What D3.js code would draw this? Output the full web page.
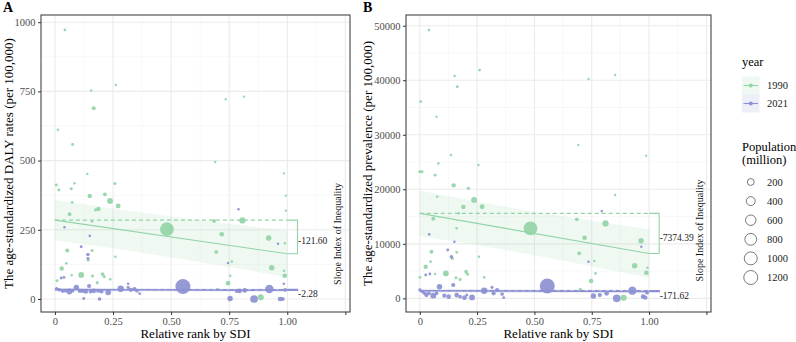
<!DOCTYPE html>
<html>
<head>
<meta charset="utf-8">
<script src="https://cdn.jsdelivr.net/npm/d3@7"></script>
<style>
  body { margin: 0; background: #fff; }
  svg { display: block; }
  svg text { font-family: "Liberation Serif", "Times New Roman", "DejaVu Serif", serif; }
</style>
</head>
<body>
<svg id="chart" width="796" height="342"></svg>
<script>
// ---- data: [relative rank by SDI, value, population (million)] ----
const years = ["1990", "2021"];

const daly1990 = [
  [0.043,972,5],[0.013,611,2],[0.156,753,2],[0.262,773,2],[0.167,689,30],[0.076,558,8],
  [0.735,722,1],[0.814,731,1],[0.690,495,1],[0.986,454,1],[0.006,412,8],[0.017,394,8],
  [0.084,418,3],[0.070,398,10],[0.074,349,3],[0.139,452,2],[0.258,417,10],[0.150,372,50],
  [0.215,378,30],[0.237,354,130],[0.187,325,50],[0.175,322,15],[0.272,336,70],[0.063,306,30],
  [0.160,280,3],[0.482,252,1150],[0.685,282,30],[0.807,284,150],[0.718,234,60],[0.920,220,100],
  [0.994,373,1],[0.994,319,1],[0.990,201,2],[0.053,175,30],[0.160,175,10],[0.143,141,15],
  [0.260,153,2],[0.694,170,25],[0.029,110,50],[0.049,129,4],[0.113,87,120],[0.162,83,10],
  [0.205,90,25],[0.212,81,12],[0.072,86,3],[0.182,59,10],[0.009,66,8],[0.933,113,100],
  [0.989,84,60],[0.986,102,3],[0.745,57,60],[0.754,84,4],[0.761,135,3],[0.700,35,10],
  [0.886,6,140],[0.238,71,3]
];
const daly2021 = [
  [0.007,37,20],[0.019,33,20],[0.033,29,25],[0.046,30,25],[0.062,27,120],[0.076,30,25],
  [0.092,42,100],[0.107,29,40],[0.119,29,30],[0.133,27,60],[0.147,47,40],[0.153,27,25],
  [0.167,29,60],[0.185,29,25],[0.200,28,50],[0.229,24,120],[0.283,37,170],[0.315,42,10],
  [0.326,33,40],[0.342,36,40],[0.353,30,25],[0.365,19,5],[0.551,45,1410],[0.754,2,100],
  [0.783,29,40],[0.795,29,60],[0.817,31,60],[0.857,0,270],[0.923,36,335],[0.969,0,60],
  [0.980,0,40],[0.991,33,25],[0.041,259,3],[0.113,189,8],[0.142,161,20],[0.150,228,3],
  [0.124,2,8],[0.192,0,20],[0.027,76,6],[0.039,78,6],[0.142,147,6],[0.790,324,2],
  [0.960,200,2],[0.745,130,2],[0.315,55,4],[0.985,55,3]
];
const prev1990 = [
  [0.040,49200,5],[0.004,36060,5],[0.073,33300,2],[0.152,40770,2],[0.164,38800,6],[0.261,41870,5],
  [0.736,40220,1],[0.852,40950,1],[0.691,28120,1],[0.987,26160,1],[0.000,23230,8],[0.010,23230,8],
  [0.081,24750,3],[0.067,22620,10],[0.136,26280,2],[0.256,24450,2],[0.148,20720,50],[0.212,20170,15],
  [0.237,18030,130],[0.190,16750,50],[0.272,16810,70],[0.076,18640,2],[0.059,14610,30],[0.170,15590,3],
  [0.161,12840,3],[0.483,12840,1150],[0.685,14490,30],[0.810,13750,150],[0.719,11120,60],[0.965,10570,100],
  [0.852,18950,2],[0.051,8560,30],[0.161,8440,4],[0.142,7330,15],[0.258,7640,2],[0.695,8250,25],
  [0.026,5810,50],[0.047,6720,4],[0.114,4580,120],[0.158,3790,10],[0.202,4890,25],[0.208,4460,12],
  [0.067,4460,3],[0.176,3480,10],[0.001,3850,8],[0.937,5990,100],[0.988,4700,60],[0.993,5620,3],
  [0.747,3180,60],[0.761,6850,3],[0.766,4580,4],[0.700,1650,10],[0.889,120,140],[0.281,3850,3]
];
const prev2021 = [
  [0.001,1530,20],[0.012,1220,20],[0.022,920,25],[0.029,610,40],[0.040,920,25],[0.059,490,120],
  [0.086,2140,100],[0.073,920,25],[0.107,490,40],[0.126,310,60],[0.146,2450,40],[0.161,610,60],
  [0.176,310,25],[0.195,120,60],[0.205,610,10],[0.228,180,120],[0.281,1410,170],[0.315,2020,10],
  [0.322,920,40],[0.337,1530,40],[0.359,800,25],[0.366,120,5],[0.556,2260,1410],[0.757,430,100],
  [0.785,610,40],[0.815,920,60],[0.859,0,270],[0.927,1410,335],[0.974,310,60],[0.984,120,40],
  [0.991,1040,25],[0.041,11740,3],[0.122,8860,8],[0.138,7640,20],[0.151,10390,3],[0.026,4280,6],
  [0.044,4460,6],[0.794,16010,2],[0.966,9470,2],[0.736,6700,2]
];

// fitted lines (intercept at rank 0, slope index of inequality)
const interceptDaly = [285, 34];
const siiDaly = [-121.60, -2.28];
const interceptPrev = [15590, 1410];
const siiPrev = [-7374.39, -171.62];

// confidence band read at these ranks
const bandRanks = [0, 0.25, 0.5, 0.75, 1];
const bandDalyLo = [[212, 183, 150, 116, 79], [28, 27.5, 27, 26.3, 25.7]];
const bandDalyHi = [[358, 327, 298, 272, 247], [40, 39.4, 38.9, 38.3, 37.7]];
const bandPrevLo = [[11390, 9750, 7900, 5860, 3820], [1060, 1017, 974, 931, 888]];
const bandPrevHi = [[19790, 17750, 15900, 14260, 12620], [1760, 1717, 1674, 1631, 1588]];

const xTicks = [0, 0.25, 0.5, 0.75, 1, 1.25];
const xMinor = [0.125, 0.375, 0.625, 0.875, 1.125];
const dalyTicks = [0, 250, 500, 750, 1000];
const dalyMinor = [125, 375, 625, 875];
const prevTicks = [0, 10000, 20000, 30000, 40000, 50000];
const prevMinor = [5000, 15000, 25000, 35000, 45000];

const popLegend = [200, 400, 600, 800, 1000, 1200];

// ---- drawing ----
const serif = '"Liberation Serif", "Times New Roman", "DejaVu Serif", serif';
const svg = d3.select("#chart").attr("font-family", serif);
const colors = ["#93D4A7", "#8C90D2"];
const rScale = d3.scaleSqrt().domain([0, 1200]).range([1, 7]);

function drawPanel(p) {
  const x = d3.scaleLinear().domain([-0.06, 1.27]).range([p.left, p.right]);
  const y = d3.scaleLinear().domain(p.yDomain).range([p.bottom, p.top]);
  const g = svg.append("g");

  // grid
  g.selectAll(".vminor").data(xMinor).join("line")
    .attr("x1", d => x(d)).attr("x2", d => x(d)).attr("y1", p.top).attr("y2", p.bottom)
    .attr("stroke", "#F3F3F3").attr("stroke-width", 0.6);
  g.selectAll(".hminor").data(p.minor).join("line")
    .attr("y1", d => y(d)).attr("y2", d => y(d)).attr("x1", p.left).attr("x2", p.right)
    .attr("stroke", "#F3F3F3").attr("stroke-width", 0.6);
  g.selectAll(".vmajor").data(xTicks).join("line")
    .attr("x1", d => x(d)).attr("x2", d => x(d)).attr("y1", p.top).attr("y2", p.bottom)
    .attr("stroke", "#EBEBEB").attr("stroke-width", 1.1);
  g.selectAll(".hmajor").data(p.ticks).join("line")
    .attr("y1", d => y(d)).attr("y2", d => y(d)).attr("x1", p.left).attr("x2", p.right)
    .attr("stroke", "#EBEBEB").attr("stroke-width", 1.1);

  // confidence bands
  const area = d3.area().x(d => x(d[0])).y0(d => y(d[1])).y1(d => y(d[2])).curve(d3.curveMonotoneX);
  years.forEach((yr, i) => {
    const band = bandRanks.map((r, k) => [r, p.lo[i][k], p.hi[i][k]]);
    g.append("path").attr("d", area(band))
      .attr("fill", colors[i]).attr("fill-opacity", 0.15);
  });

  // points
  years.forEach((yr, i) => {
    g.append("g").selectAll("circle").data(p.points[i]).join("circle")
      .attr("cx", d => x(d[0])).attr("cy", d => y(d[1]))
      .attr("r", d => rScale(d[2]))
      .attr("fill", colors[i]).attr("fill-opacity", 0.92);
  });

  // fitted lines, baseline and SII bracket
  const bx = 1.044;
  years.forEach((yr, i) => {
    const a = p.intercept[i], b = a + p.sii[i];
    g.append("line")
      .attr("x1", x(0)).attr("x2", x(1)).attr("y1", y(a)).attr("y2", y(b))
      .attr("stroke", colors[i]).attr("stroke-width", i ? 1.5 : 1.1);
    g.append("line")
      .attr("x1", x(0)).attr("x2", x(1)).attr("y1", y(a)).attr("y2", y(a))
      .attr("stroke", colors[i]).attr("stroke-width", i ? 1.3 : 1.1)
      .attr("stroke-dasharray", "4,3");
    g.append("path")
      .attr("d", `M${x(1)},${y(a)}H${x(bx)}V${y(b)}H${x(1)}`)
      .attr("fill", "none").attr("stroke", colors[i]).attr("stroke-width", i ? 1.5 : 1.1);
    g.append("text")
      .attr("x", x(bx) + 0.5).attr("y", y((a + b) / 2) + 7.5)
      .attr("font-size", 9.5).attr("fill", "#222")
      .text(p.sii[i].toFixed(2));
  });

  // slope index caption
  const midY = y((p.intercept[0] + p.intercept[0] + p.sii[0]) / 2) - 3;
  g.append("text")
    .attr("transform", `translate(${x(1.22) + 3},${midY}) rotate(-90)`)
    .attr("text-anchor", "middle").attr("font-size", 10).attr("fill", "#111")
    .text("Slope Index of Inequality");

  // panel border
  g.append("rect").attr("x", p.left).attr("y", p.top)
    .attr("width", p.right - p.left).attr("height", p.bottom - p.top)
    .attr("fill", "none").attr("stroke", "#333").attr("stroke-width", 1);

  // axes
  const xAxis = g.append("g").attr("transform", `translate(0,${p.bottom})`)
    .call(d3.axisBottom(x).tickValues(xTicks).tickSize(3).tickPadding(3)
      .tickFormat(d => d === 0 ? "0" : d > 1.2 ? "" : d3.format(".2f")(d)));
  const yAxis = g.append("g").attr("transform", `translate(${p.left},0)`)
    .call(d3.axisLeft(y).tickValues(p.ticks).tickSize(3).tickPadding(2.5).tickFormat(d3.format("d")));
  [xAxis, yAxis].forEach(ax => {
    ax.attr("font-family", serif).attr("font-size", 10.5);
    ax.select(".domain").remove();
    ax.selectAll(".tick line").attr("stroke", "#333");
    ax.selectAll(".tick text").attr("fill", "#4D4D4D");
  });

  // titles
  g.append("text")
    .attr("x", (x(-0.06) + x(1.27)) / 2).attr("y", 338)
    .attr("text-anchor", "middle").attr("font-size", 13).attr("fill", "#000")
    .text("Relative rank by SDI");
  g.append("text")
    .attr("transform", `translate(${p.titleX},${(p.top + p.bottom) / 2}) rotate(-90)`)
    .attr("text-anchor", "middle").attr("font-size", 13).attr("fill", "#000")
    .text(p.yTitle);
  g.append("text")
    .attr("x", p.tagX).attr("y", 12)
    .attr("font-size", 14).attr("font-weight", "bold").attr("fill", "#000")
    .text(p.tag);
}

drawPanel({
  tag: "A", tagX: 3, left: 41, right: 350, top: 15, bottom: 312,
  yDomain: [-47, 1026], ticks: dalyTicks, minor: dalyMinor,
  points: [daly1990, daly2021],
  intercept: interceptDaly, sii: siiDaly, lo: bandDalyLo, hi: bandDalyHi,
  titleX: 12.5, yTitle: "The age-standardized DALY rates (per 100,000)"
});
drawPanel({
  tag: "B", tagX: 363, left: 406, right: 711, top: 15, bottom: 312,
  yDomain: [-2500, 51960], ticks: prevTicks, minor: prevMinor,
  points: [prev1990, prev2021],
  intercept: interceptPrev, sii: siiPrev, lo: bandPrevLo, hi: bandPrevHi,
  titleX: 371.5, yTitle: "The age-standardized prevalence (per 100,000)"
});

// ---- legend ----
const leg = svg.append("g").attr("transform", "translate(742,0)");
leg.append("text").attr("x", 0).attr("y", 66).attr("font-size", 12.5).text("year");
years.forEach((yr, i) => {
  const ky = 76.5 + i * 18;
  leg.append("rect").attr("x", 0).attr("y", ky).attr("width", 17.5).attr("height", 18)
    .attr("fill", colors[i]).attr("fill-opacity", 0.15);
  leg.append("line").attr("x1", 1.5).attr("x2", 16).attr("y1", ky + 9).attr("y2", ky + 9)
    .attr("stroke", colors[i]).attr("stroke-width", 1.1);
  leg.append("circle").attr("cx", 8.75).attr("cy", ky + 9).attr("r", 2)
    .attr("fill", colors[i]);
  leg.append("text").attr("x", 25).attr("y", ky + 12.5).attr("font-size", 10.5).attr("fill", "#222").text(yr);
});
leg.append("text").attr("x", 0).attr("y", 151).attr("font-size", 12.5).text("Population");
leg.append("text").attr("x", 0).attr("y", 163.5).attr("font-size", 12.5).text("(million)");
popLegend.forEach((v, i) => {
  const cy = 182 + i * 19.1;
  leg.append("circle").attr("cx", 8.75).attr("cy", cy).attr("r", rScale(v))
    .attr("fill", "none").attr("stroke", "#222").attr("stroke-width", 0.6);
  leg.append("text").attr("x", 25).attr("y", cy + 3.5).attr("font-size", 10.5).attr("fill", "#222").text(v);
});
</script>
</body>
</html>
